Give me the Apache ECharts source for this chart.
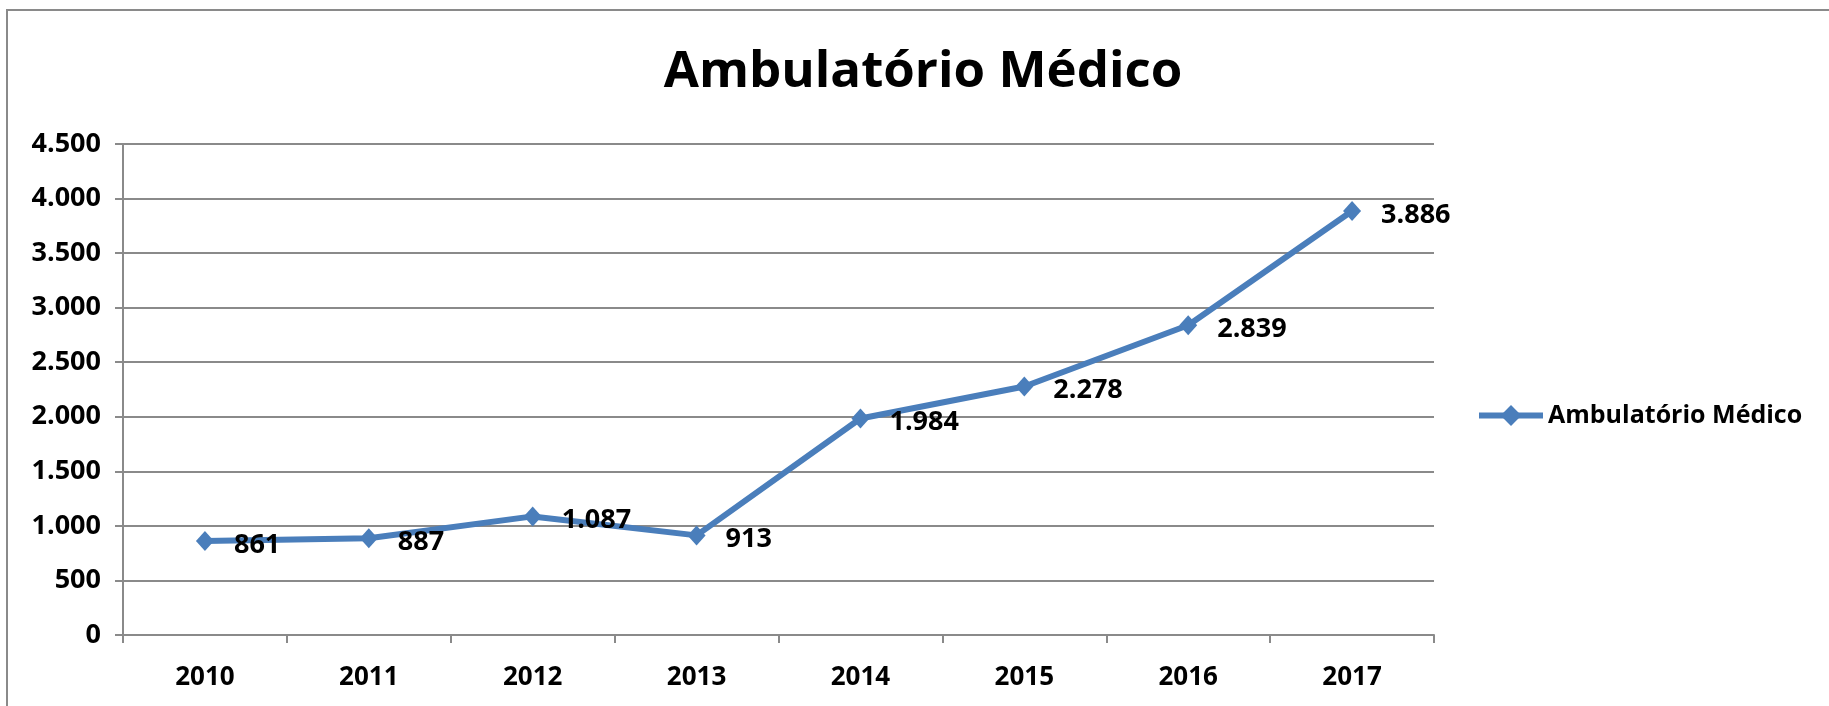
<!DOCTYPE html>
<html>
<head>
<meta charset="utf-8">
<title>Ambulatório Médico</title>
<script src="https://cdn.jsdelivr.net/npm/echarts@6/dist/echarts.min.js"></script>
<style>
    html, body { margin: 0; padding: 0; background: #fff; }
    #chart { width: 1829px; height: 706px; }
</style>
</head>
<body>
<div id="chart"></div>
<script>
// dados do gráfico
const years = ['2010', '2011', '2012', '2013', '2014', '2015', '2016', '2017'];
const atendimentos = [861, 887, 1087, 913, 1984, 2278, 2839, 3886];
const seriesName = 'Ambulatório Médico';

const fonte = '"Open Sans", "Noto Sans", sans-serif';
const cinza = '#8a8a8a';
const azul = '#4a7ebb';

const chart = echarts.init(document.getElementById('chart'));

// formata milhares com ponto (pt-BR)
const fmt = v => String(v).replace(/\B(?=(\d{3})+(?!\d))/g, '.');

const option = {
    animation: false,
    title: {
        text: 'Ambulatório Médico',
        left: 918,
        top: 42,
        textAlign: 'center',
        textStyle: { fontFamily: fonte, fontWeight: 'bold', fontSize: 51, color: '#000' }
    },
    graphic: [{
        type: 'rect',
        shape: { x: 7, y: 10, width: 1900, height: 800 },
        style: { fill: 'none', stroke: cinza, lineWidth: 2 },
        silent: true
    }],
    legend: {
        left: 1471,
        top: 398,
        itemWidth: 64,
        itemHeight: 26,
        itemGap: 6,
        lineStyle: { width: 6 },
        textStyle: { fontFamily: fonte, fontWeight: 'bold', fontSize: 25, color: '#000' },
        data: [seriesName]
    },
    grid: { left: 123, top: 144, right: 395, bottom: 71 },
    xAxis: {
        type: 'category',
        data: years,
        boundaryGap: true,
        axisLine: { lineStyle: { color: cinza, width: 2 } },
        axisTick: { show: true, length: 8, lineStyle: { color: cinza, width: 2 } },
        axisLabel: { margin: 30, fontFamily: fonte, fontWeight: 'bold', fontSize: 26, color: '#000' }
    },
    yAxis: {
        type: 'value',
        min: 0,
        max: 4500,
        interval: 500,
        axisLine: { show: true, lineStyle: { color: cinza, width: 2 } },
        axisTick: { show: true, length: 8, lineStyle: { color: cinza, width: 2 } },
        splitLine: { lineStyle: { color: cinza, width: 2 } },
        axisLabel: { margin: 22, fontFamily: fonte, fontWeight: 'bold', fontSize: 27, color: '#000', formatter: fmt }
    },
    series: [{
        name: seriesName,
        type: 'line',
        data: atendimentos,
        symbol: 'diamond',
        symbolSize: [18, 20],
        lineStyle: { color: azul, width: 6 },
        itemStyle: { color: azul },
        label: {
            show: true,
            position: 'right',
            distance: 20,
            offset: [0, 4],
            fontFamily: fonte,
            fontWeight: 'bold',
            fontSize: 27,
            color: '#000',
            formatter: p => fmt(p.value)
        }
    }]
};

chart.setOption(option);
</script>
</body>
</html>
